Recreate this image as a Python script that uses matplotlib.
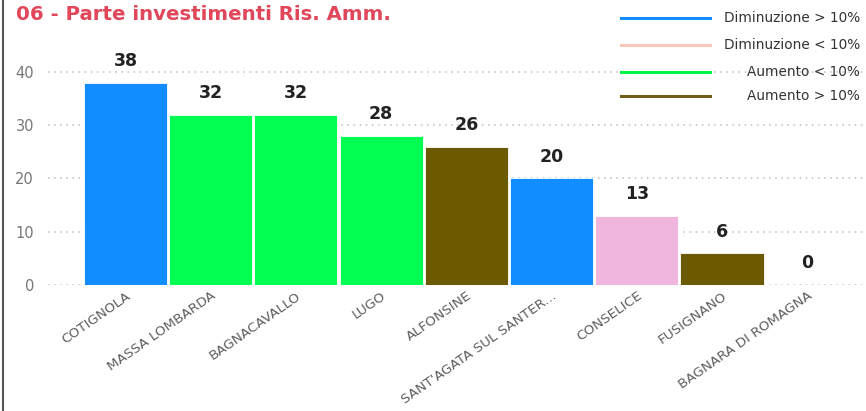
import matplotlib.pyplot as plt
from matplotlib.lines import Line2D

comuni = ['COTIGNOLA', 'MASSA LOMBARDA', 'BAGNACAVALLO', 'LUGO', 'ALFONSINE',
          "SANT'AGATA SUL SANTER...", 'CONSELICE', 'FUSIGNANO', 'BAGNARA DI ROMAGNA']
valori = [38, 32, 32, 28, 26, 20, 13, 6, 0]
categorie = ['dim_forte', 'aum_lieve', 'aum_lieve', 'aum_lieve', 'aum_forte',
             'dim_forte', 'dim_lieve', 'aum_forte', 'aum_forte']

colori_barre = {'dim_forte': '#118DFF', 'dim_lieve': '#F0B6DD',
                'aum_lieve': '#00FF50', 'aum_forte': '#6B5A00'}
voci_legenda = [('Diminuzione > 10%', '#118DFF'),
                ('Diminuzione < 10%', '#F7C7B8'),
                ('Aumento < 10%', '#00F548'),
                ('Aumento > 10%', '#6E5E18')]

fig = plt.figure(figsize=(8.66, 4.11), dpi=100)
ax = fig.add_axes([0.0554, 0.3066, 0.9446, 0.596])

x = range(len(comuni))
ax.bar(x, valori, width=0.975, color=[colori_barre[c] for c in categorie],
       edgecolor='white', linewidth=0.6, zorder=2)

for i, v in enumerate(valori):
    ax.annotate(f'{v}', (i, v), xytext=(0, 9), textcoords='offset points',
                ha='center', va='bottom', fontsize=12.5, fontweight='bold',
                color='#222222')

ax.set_xlim(-0.91, 8.69)
ax.set_ylim(0, 46)
ax.set_yticks([0, 10, 20, 30, 40])
ax.yaxis.grid(True, linestyle=(0, (1, 3)), color='#BDBDBD', linewidth=1.1, zorder=0)
ax.set_xticks(list(x))
ax.set_xticklabels(comuni, rotation=35, ha='right', rotation_mode='anchor',
                   fontsize=9.7, color='#605E5C')
ax.tick_params(axis='both', length=0)
ax.tick_params(axis='x', pad=3)
ax.tick_params(axis='y', labelsize=10.5, labelcolor='#777777', pad=10)
for s in ax.spines.values():
    s.set_visible(False)

fig.text(16 / 866, 1 - 14 / 411, '06 - Parte investimenti Ris. Amm.',
         fontsize=14.2, fontweight='bold', color='#E0475B', va='center')

# legenda a destra con testo allineato a destra
righe_y = [18, 45, 72, 96]
for (etichetta, col), py in zip(voci_legenda, righe_y):
    yf = 1 - py / 411
    fig.add_artist(Line2D([621 / 866, 710 / 866], [yf, yf], color=col,
                          linewidth=2.2, transform=fig.transFigure))
    fig.text(860 / 866, yf, etichetta, ha='right', va='center', fontsize=9.8,
             color='#333333')

# bordo sinistro del riquadro
fig.add_artist(Line2D([2.5 / 866, 2.5 / 866], [0, 1], color='#555555',
                      linewidth=1.5, transform=fig.transFigure))

fig.savefig('out.png', dpi=100)
